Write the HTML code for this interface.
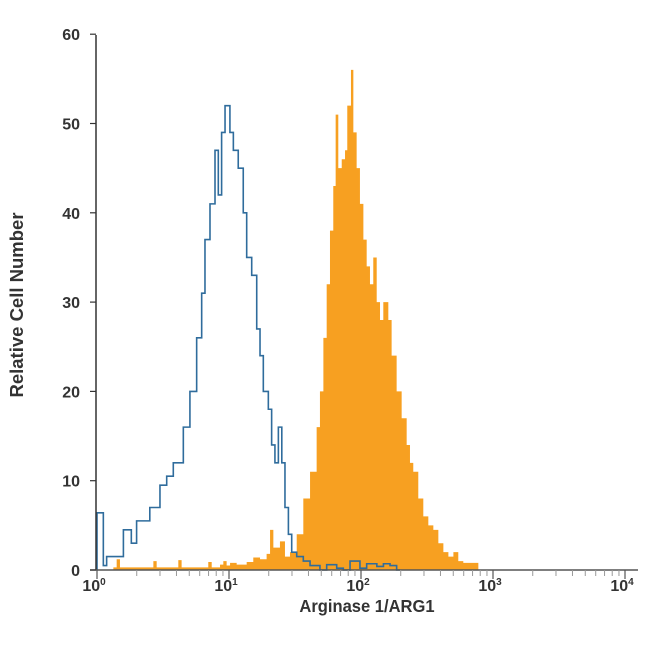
<!DOCTYPE html>
<html><head><meta charset="utf-8"><style>
body{margin:0;background:#fff;width:650px;height:650px;overflow:hidden}
svg text{font-family:"Liberation Sans Narrow","Liberation Sans",sans-serif;fill:#333;font-weight:bold}
</style></head><body>
<svg id="chart" width="650" height="650" viewBox="0 0 650 650" xmlns="http://www.w3.org/2000/svg">
<g id="orange"></g>
<g id="blue"></g>
<g id="axes"></g>
<text x="367" y="612" text-anchor="middle" font-size="18" transform="translate(367,0) scale(0.92,1) translate(-367,0)">Arginase 1/ARG1</text>
<text transform="translate(23,305) rotate(-90)" text-anchor="middle" font-size="18.5">Relative Cell Number</text>
</svg>
<script>
const blueLog=[0,0.048,0.073,0.2,0.225,0.26,0.30,0.40,0.477,0.528,0.578,0.654,0.704,0.755,0.793,0.818,0.856,0.894,0.919,0.944,0.97,1.007,1.033,1.07,1.108,1.134,1.172,1.21,1.235,1.26,1.298,1.323,1.348,1.374,1.4,1.424,1.45,1.475,1.513,1.563,1.614,1.689,1.74,1.816,1.866,1.917,1.992,2.043,2.12,2.17,2.22,2.27,2.295];
const blueCounts=[6.4,0.5,1.5,4.5,4.5,3,5.5,7,9.5,10.5,12,16,20,26,31,37,41,47,42,49,52,49,47,45,40,35,33,27,24,20,18,14,12,16,12,7,4,2,1.5,1,0.5,0,0.6,0.2,0,1,0.2,0.7,0.4,0.7,0.5,0,0];
const orangeLog=[0.124,0.149,0.174,0.40,0.427,0.452,0.591,0.616,0.641,0.818,0.843,0.869,0.932,0.957,0.982,1.008,1.058,1.134,1.184,1.235,1.285,1.311,1.336,1.386,1.424,1.462,1.513,1.563,1.614,1.664,1.689,1.715,1.74,1.765,1.79,1.808,1.828,1.854,1.879,1.896,1.924,1.942,1.967,1.992,2.018,2.043,2.068,2.093,2.119,2.144,2.169,2.207,2.232,2.27,2.308,2.346,2.371,2.396,2.434,2.472,2.51,2.548,2.586,2.624,2.662,2.7,2.737,2.775,2.889];
const orangeCounts=[0.3,1.2,0.3,0.3,1,0.3,0.3,1.1,0.3,0.3,0.9,0.3,0.6,1,0.5,0.8,0.6,0.9,1.4,1.2,1.8,4.5,2.5,3.2,1.5,2,4,8,11,16,20,26,32,38,43,51,45,46,47,52,56,49,45,41,37,34,32,35,30,28,30,28,24,20,17,14,12,11,8,6,5,4.5,3,2,1.5,2,1,0.8,0];
const yTicks=[0,10,20,30,40,50,60];
const xDecades=[0,1,2,3,4];
const X0=97,DEC=132,Y0=570,PU=8.93;
const xs=l=>X0+DEC*l, ys=c=>Y0-PU*c;
const NS='http://www.w3.org/2000/svg';
function mk(t,a,p){const e=document.createElementNS(NS,t);for(const k in a)e.setAttribute(k,a[k]);p.appendChild(e);return e;}
function stepPath(L,C){let d='M'+xs(L[0])+','+Y0;for(let i=0;i<L.length;i++){const x0=xs(L[i]),x1=i<L.length-1?xs(L[i+1]):x0;d+=' L'+x0+','+ys(C[i])+' L'+x1+','+ys(C[i]);}return d;}
const op=mk('path',{d:stepPath(orangeLog,orangeCounts)+' L'+xs(orangeLog[orangeLog.length-1])+','+Y0+' Z',fill:'#f7a021'},document.getElementById('orange'));


const bp=mk('path',{d:stepPath(blueLog,blueCounts),fill:'none',stroke:'#2f6c9c','stroke-width':1.6},document.getElementById('blue'));


const ax=document.getElementById('axes');
mk('line',{x1:96,y1:35,x2:96,y2:Y0,stroke:'#333','stroke-width':1.5},ax);
mk('line',{x1:90,y1:Y0,x2:638,y2:Y0,stroke:'#555','stroke-width':1.5},ax);
yTicks.forEach(v=>{
  mk('line',{x1:90,y1:ys(v),x2:96,y2:ys(v),stroke:'#333','stroke-width':1.2},ax);
  const t=mk('text',{x:80,y:ys(v)+6,'text-anchor':'end','font-size':16},ax);t.textContent=v;
  
  
});
xDecades.forEach(d=>{
  mk('line',{x1:xs(d),y1:Y0,x2:xs(d),y2:Y0+9,stroke:'#555','stroke-width':1.2},ax);
  const t=mk('text',{x:xs(d)-3,y:Y0+21,'text-anchor':'middle','font-size':16},ax);
  
  
  t.textContent='10';
  const s=mk('tspan',{dy:-6,'font-size':10},t);s.textContent=String(d);
  if(d<4)for(let k=2;k<10;k++){const x=xs(d+Math.log10(k));mk('line',{x1:x,y1:Y0,x2:x,y2:Y0+6,stroke:'#999','stroke-width':1},ax);}
});
</script>
</body></html>
